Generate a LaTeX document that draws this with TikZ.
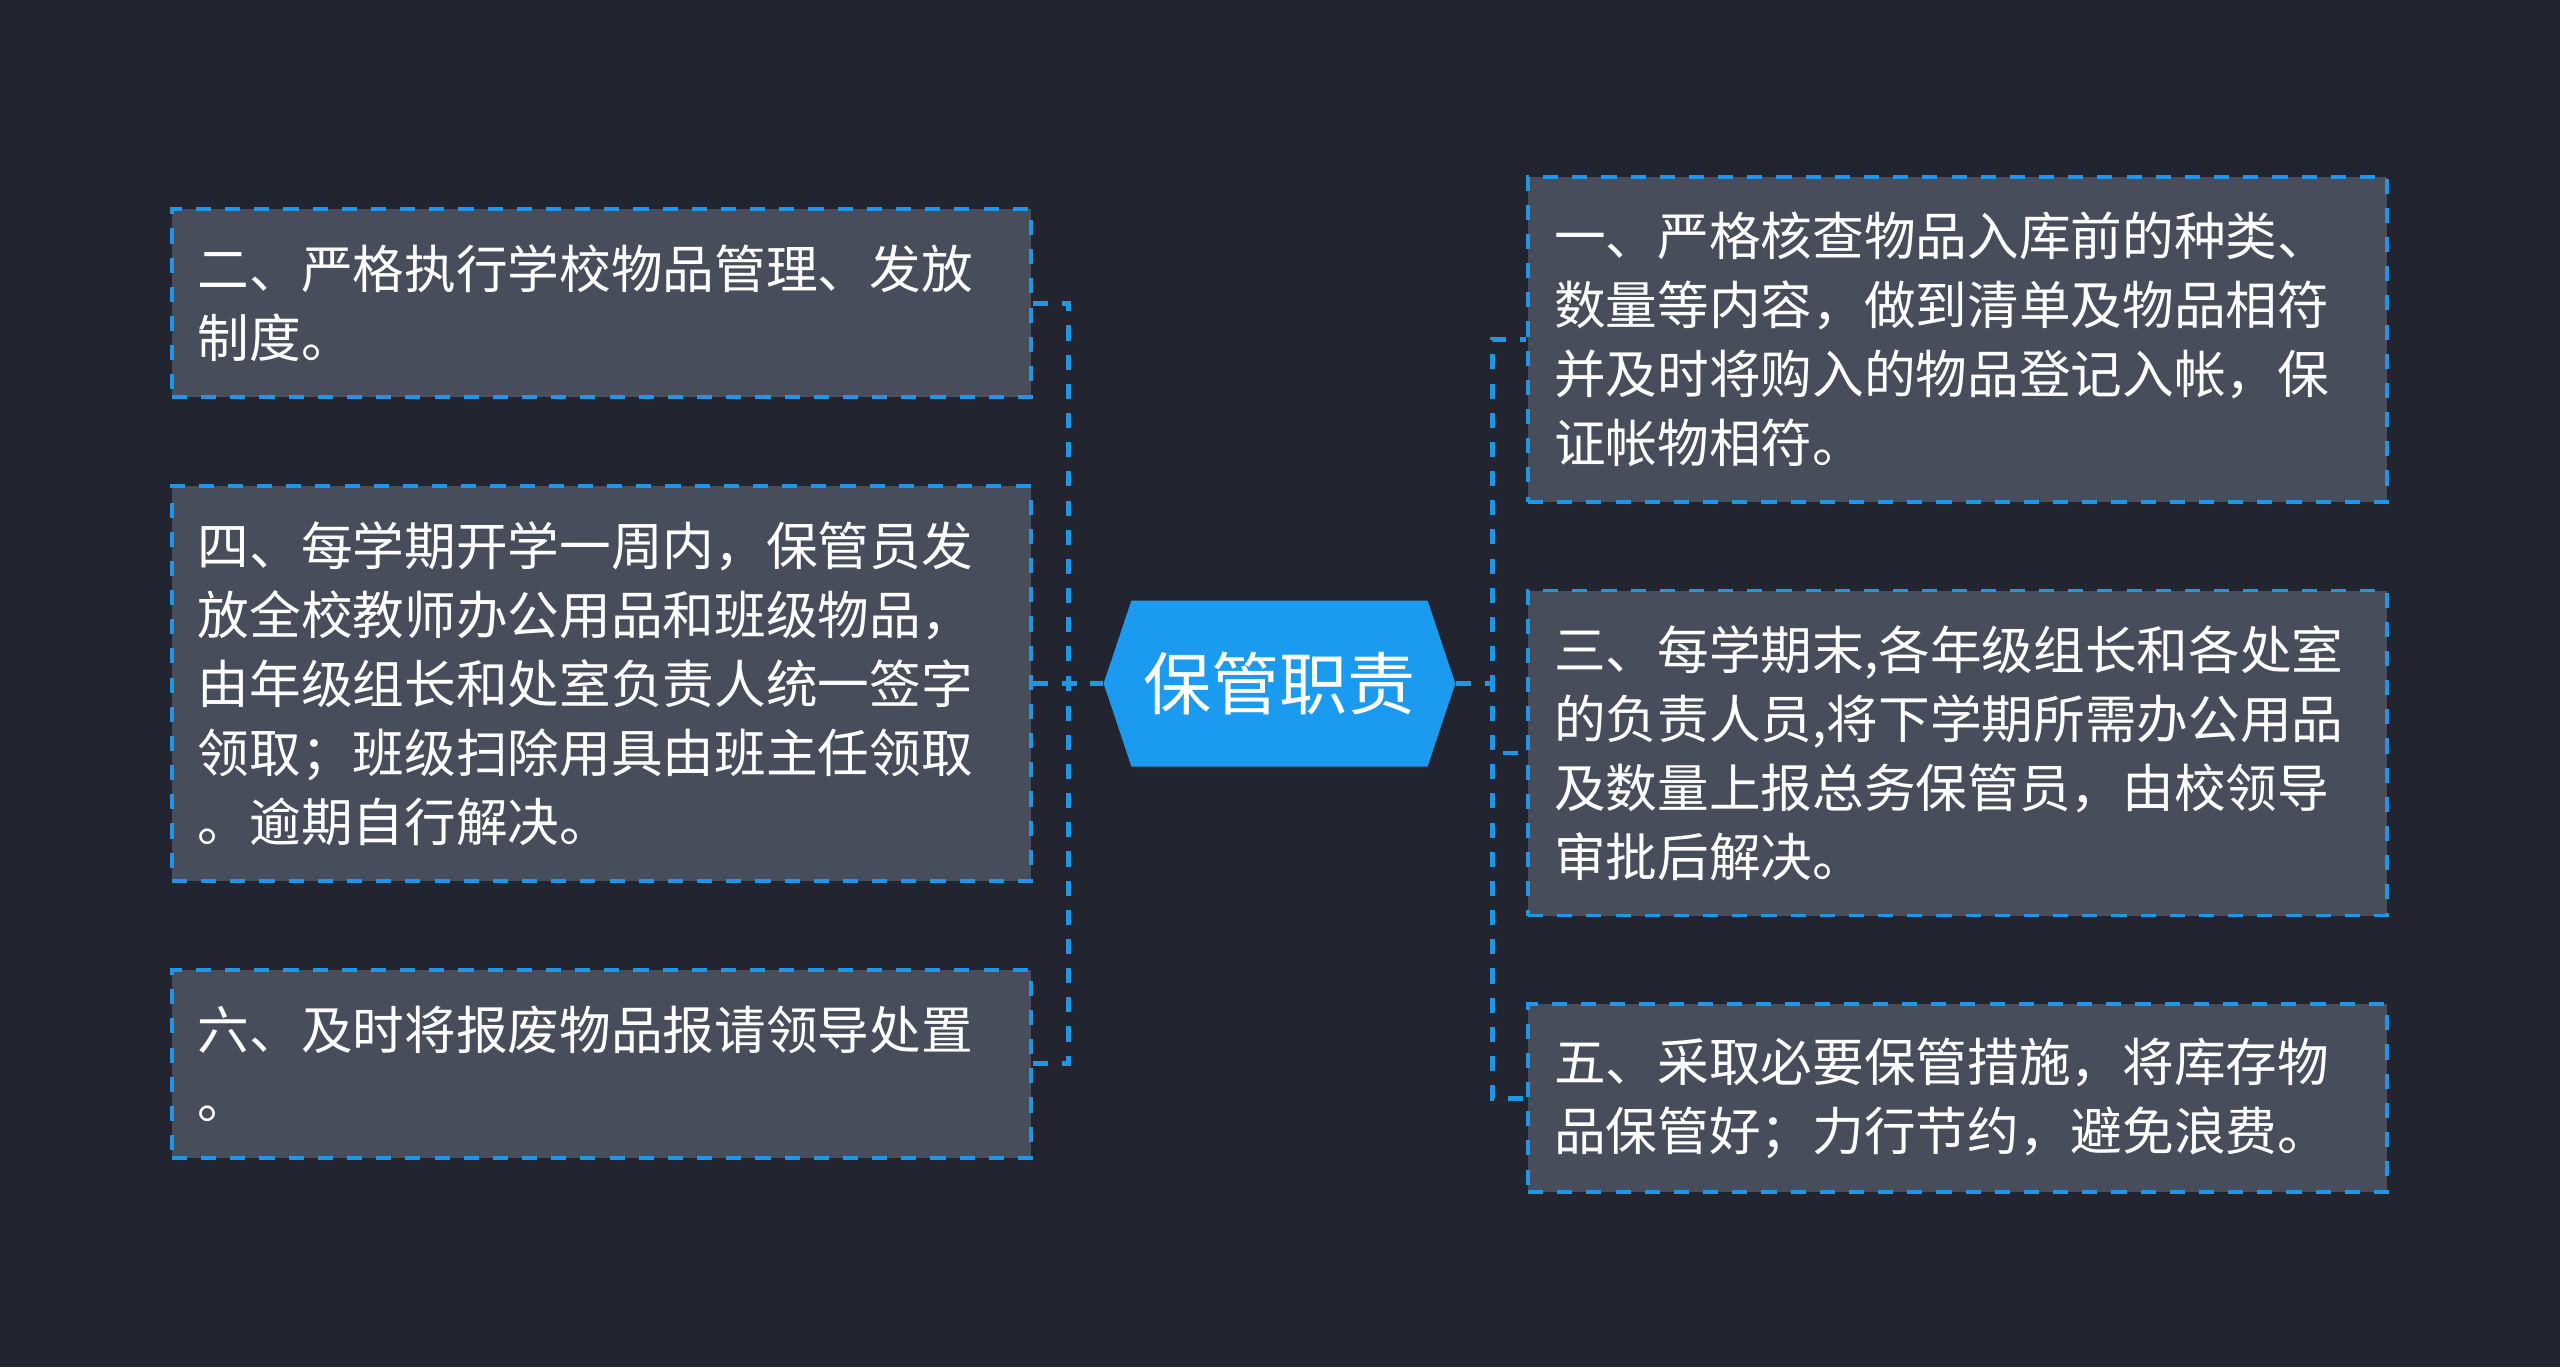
\documentclass[tikz,border=0pt]{standalone}
\usepackage{fontspec}
\newfontfamily\cjk{Noto Sans CJK SC}
\usetikzlibrary{shapes,positioning,backgrounds}
\definecolor{bgdark}{RGB}{34,37,47}
\definecolor{boxgray}{RGB}{71,77,91}
\definecolor{linkblue}{RGB}{31,150,230}
\definecolor{hubblue}{RGB}{26,155,240}
\tikzset{
  dutybox/.style={
    rectangle, draw=linkblue, fill=boxgray, line width=1.1pt,
    dash pattern=on 4.3pt off 4pt, text=white, text width=8.07cm,
    inner xsep=0.26cm, align=left, font=\cjk\fontsize{14.7}{19.6}\selectfont
  },
  %
  hub/.style={
    signal, signal to=west and east, signal pointer angle=143,
    fill=hubblue, text=white, minimum width=3.43cm, minimum height=1.66cm,
    font=\cjk\fontsize{19.4}{24}\selectfont
  },
  %
  link/.style={
    draw=linkblue, line width=1.4pt, dash pattern=on 4.3pt off 4pt
  }
}

\begin{document}
\begin{tikzpicture}
\fill[bgdark] (-12.795,6.835) rectangle (12.805,-6.835);

\node(hub)[hub]{保管职责};

\node(four)[dutybox, left=0.70cm of hub, minimum height=3.95cm]{
    四、每学期开学一周内，保管员发\\
    放全校教师办公用品和班级物品，\\
    由年级组长和处室负责人统一签字\\
    领取；班级扫除用具由班主任领取\\
    。逾期自行解决。
};

\node(two)[dutybox, above=0.85cm of four, minimum height=1.88cm]{
    二、严格执行学校物品管理、发放\\
    制度。
};

\node(six)[dutybox, below=0.85cm of four, minimum height=1.88cm]{
    六、及时将报废物品报请领导处置\\
    。
};

\node(three)[dutybox, right=0.70cm of hub, yshift=-0.695cm, minimum height=3.25cm]{
    三、每学期末,各年级组长和各处室\\
    的负责人员,将下学期所需办公用品\\
    及数量上报总务保管员，由校领导\\
    审批后解决。
};

\node(one)[dutybox, above=0.85cm of three, minimum height=3.25cm]{
    一、严格核查物品入库前的种类、\\
    数量等内容，做到清单及物品相符\\
    并及时将购入的物品登记入帐，保\\
    证帐物相符。
};

\node(five)[dutybox, below=0.85cm of three, minimum height=1.88cm]{
    五、采取必要保管措施，将库存物\\
    品保管好；力行节约，避免浪费。
};

\draw[link] (four.east) -- (hub.west);
\draw[link] (two.east) -- ++(0.36,0) |- (hub.west);
\draw[link] (six.east) -- ++(0.36,0) |- (hub.west);
\draw[link] (hub.east) -- ++(0.36,0) |- (one.west);
\draw[link] (hub.east) -- ++(0.36,0) |- (three.west);
\draw[link] (hub.east) -- ++(0.36,0) |- (five.west);

\end{tikzpicture}
\end{document}
